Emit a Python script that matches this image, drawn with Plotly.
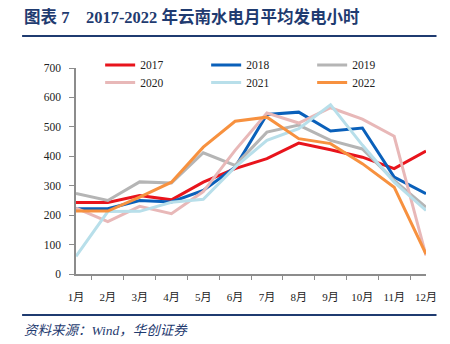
import plotly.graph_objects as go

months = ["1月", "2月", "3月", "4月", "5月", "6月", "7月", "8月", "9月", "10月", "11月", "12月"]
years = ["2017", "2018", "2019", "2020", "2021", "2022"]
v2017 = [243, 243, 267, 252, 312, 358, 392, 445, 422, 397, 358, 418]
v2018 = [222, 222, 250, 245, 284, 363, 542, 550, 486, 496, 329, 273]
v2019 = [274, 250, 313, 309, 412, 369, 482, 506, 454, 425, 318, 227]
v2020 = [224, 178, 230, 205, 280, 420, 547, 513, 565, 526, 468, 63]
v2021 = [60, 212, 213, 244, 254, 363, 454, 494, 575, 438, 312, 216]
v2022 = [214, 214, 261, 312, 431, 519, 533, 460, 443, 375, 295, 68]
colors = ["#E8141C", "#0A60BA", "#B5B5B5", "#E8B8B8", "#B8DFEA", "#F7913F"]

series = [v2017, v2018, v2019, v2020, v2021, v2022]

fig = go.Figure()
for i, (name, vals, c) in enumerate(zip(years, series, colors)):
    fig.add_trace(go.Scatter(
        x=months, y=vals, name=name, mode="lines",
        line=dict(color=c, width=3),
        legend="legend" if i < 3 else "legend2",
    ))

navy = "#1F3B70"
fig.update_layout(
    width=450, height=344,
    margin=dict(l=76, r=24, t=68, b=70),
    paper_bgcolor="white", plot_bgcolor="white",
    font=dict(family="Liberation Serif, Noto Sans CJK SC", size=11, color="#222"),
    showlegend=True,
    legend=dict(orientation="h", x=0.069, y=1.015, xanchor="left", yanchor="middle",
                entrywidth=61, entrywidthmode="pixels", font=dict(size=11.5, color="#222"),
                bgcolor="rgba(0,0,0,0)", itemwidth=30, tracegroupgap=0),
    legend2=dict(orientation="h", x=0.069, y=0.93, xanchor="left", yanchor="middle",
                 entrywidth=61, entrywidthmode="pixels", font=dict(size=11.5, color="#222"),
                 bgcolor="rgba(0,0,0,0)", itemwidth=30, tracegroupgap=0),
    xaxis=dict(type="category", showgrid=False, showline=True, linecolor="#8C8C8C", linewidth=1.5,
               ticks="outside", tickson="boundaries", ticklen=4, tickcolor="#8C8C8C",
               ticklabelstandoff=12,
               tickfont=dict(size=11, color="#222")),
    yaxis=dict(range=[0, 700], dtick=100, showgrid=False, showline=True, linecolor="#8C8C8C",
               linewidth=1.5, ticks="outside", ticklen=5, tickcolor="#8C8C8C", zeroline=False,
               ticklabelstandoff=6,
               tickfont=dict(size=11.5, color="#222")),
    shapes=[
        dict(type="line", xref="paper", yref="paper", x0=-0.154, x1=1.03, y0=1.155, y1=1.155,
             line=dict(color=navy, width=2)),
        dict(type="line", xref="paper", yref="paper", x0=-0.154, x1=1.03, y0=-0.199, y1=-0.199,
             line=dict(color=navy, width=2)),
    ],
    annotations=[
        dict(text="<b>图表 7    2017-2022 年云南水电月平均发电小时</b>", xref="paper", yref="paper",
             x=-0.154, y=1.248, xanchor="left", yanchor="middle", showarrow=False,
             font=dict(size=16.5, color=navy, family="Liberation Serif, Noto Sans CJK SC")),
        dict(text="<i>资料来源：Wind，华创证券</i>", xref="paper", yref="paper",
             x=-0.154, y=-0.272, xanchor="left", yanchor="middle", showarrow=False,
             font=dict(size=13.5, color=navy, family="Liberation Serif, Noto Sans CJK SC")),
    ],
)

fig.write_html("out.html")
